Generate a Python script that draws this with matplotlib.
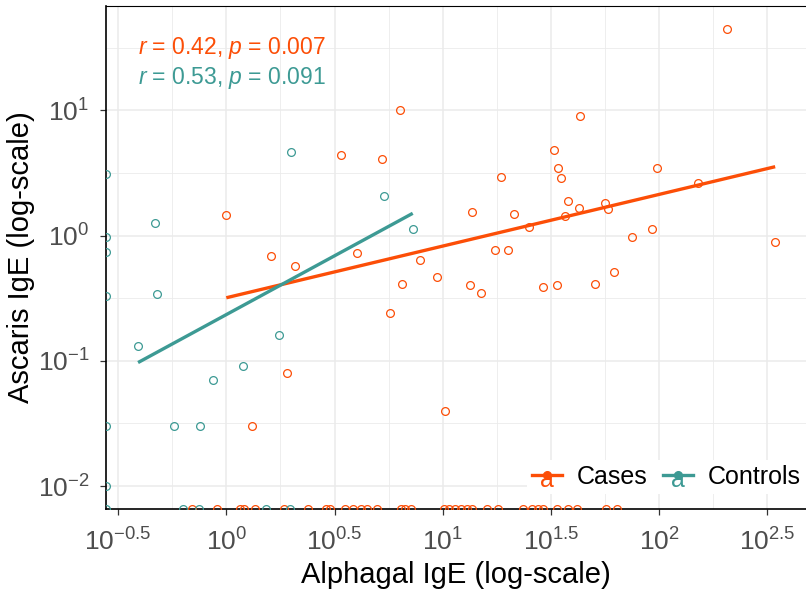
import numpy as np
import matplotlib.pyplot as plt
from matplotlib.legend_handler import HandlerBase
from matplotlib.lines import Line2D
from matplotlib.text import Text
from matplotlib.ticker import FixedLocator, NullFormatter

plt.rcParams['font.family'] = ['Liberation Sans', 'DejaVu Sans']
plt.rcParams['mathtext.fontset'] = 'custom'
plt.rcParams['mathtext.rm'] = 'Liberation Sans'
plt.rcParams['mathtext.it'] = 'Liberation Sans:italic'

# Cases: Alphagal IgE (x) vs Ascaris IgE (y); 0 = below detection
cases_x = [205, 43.1, 6.35, 32.8, 3.38, 5.24, 34.2, 35.1, 18.6, 97.5, 151.8, 37.8,
           42.5, 36.9, 56.2, 58.1, 13.6, 21.4, 25.0, 1.0, 74.7, 93.0, 344, 17.4,
           20.0, 1.61, 2.08, 4.00, 7.88, 9.38, 6.46, 5.69, 13.4, 15.1, 29.2, 33.8,
           50.4, 62.1, 1.91, 10.2, 1.31,
           0.692, 0.903, 1.157, 1.207, 1.357, 1.848, 2.385, 2.889, 3.013, 3.537,
           3.850, 4.194, 4.469, 4.970, 6.418, 6.697, 7.137, 10.14, 10.69, 11.40,
           12.15, 12.95, 13.66, 16.02, 18.02, 23.52, 25.88, 27.57, 29.07, 33.75,
           37.93, 41.7, 56.9, 63.9]
cases_y = [44.2, 9.04, 10.1, 4.81, 4.39, 4.08, 3.48, 2.86, 2.95, 3.44, 2.61, 1.90,
           1.67, 1.44, 1.81, 1.63, 1.55, 1.49, 1.18, 1.45, 0.98, 1.12, 0.887, 0.762,
           0.770, 0.690, 0.571, 0.729, 0.641, 0.469, 0.408, 0.241, 0.403, 0.350,
           0.390, 0.401, 0.408, 0.511, 0.080, 0.040, 0.030] + [0] * 34

# Controls
controls_x = [0.470, 0.480, 0.391, 1.985, 5.37, 7.27, 1.747, 1.194, 0.871, 0.573, 0.758,
              0, 0, 0, 0, 0, 0, 0,
              0.629, 0.746, 1.52, 1.97]
controls_y = [1.25, 0.340, 0.1305, 4.66, 2.085, 1.127, 0.160, 0.0904, 0.0699, 0.030, 0.030,
              3.10, 0.978, 0.743, 0.329, 0.030, 0.010, 0,
              0, 0, 0, 0]

groups = ['Cases', 'Controls']
colors = {'Cases': '#FC4E07', 'Controls': '#3D9A94'}
stats_text = {'Cases': '$r$ = 0.42, $p$ = 0.007', 'Controls': '$r$ = 0.53, $p$ = 0.091'}

x_ticks = [-0.5, 0, 0.5, 1, 1.5, 2, 2.5]
y_ticks = [-2, -1, 0, 1]
xlim = (10 ** -0.556, 10 ** 2.679)
ylim = (10 ** -2.183, 10 ** 1.832)


class KeyHandler(HandlerBase):
    # ggplot 스타일 범례 키: 선 + 점 + 'a'
    def create_artists(self, legend, orig_handle, xdescent, ydescent,
                       width, height, fontsize, trans):
        c = orig_handle.get_color()
        x0, x1 = -xdescent, -xdescent + width
        yc = -ydescent + height / 2
        ln = Line2D([x0, x1], [yc, yc], color=c, lw=2.4, transform=trans)
        dot = Line2D([(x0 + x1) / 2], [yc], marker='o', ms=5.5, color=c,
                     transform=trans)
        txt = Text((x0 + x1) / 2, yc - height * 0.3, 'a', color=c, ha='center',
                   va='center', fontsize=fontsize, transform=trans)
        return [ln, dot, txt]


fig = plt.figure(figsize=(8.06, 6.01), dpi=100)
ax = fig.add_axes([106 / 806, 1 - 509 / 601, 700 / 806, 503 / 601])
ax.set_xscale('log')
ax.set_yscale('log')
ax.set_xlim(xlim)
ax.set_ylim(ylim)

data = {'Cases': (cases_x, cases_y), 'Controls': (controls_x, controls_y)}
handles = []
for g in groups:
    x = np.array(data[g][0], dtype=float)
    y = np.array(data[g][1], dtype=float)
    # 0 값은 패널 가장자리에 (-Inf처럼)
    px = np.where(x > 0, x, xlim[0])
    py = np.where(y > 0, y, ylim[0])
    ax.plot(px, py, 'o', ms=5.6, mfc='none', mec=colors[g], mew=0.9, zorder=3)

for g in groups:
    x = np.array(data[g][0], dtype=float)
    y = np.array(data[g][1], dtype=float)
    m = (x > 0) & (y > 0)
    lx, ly = np.log10(x[m]), np.log10(y[m])
    k, b = np.polyfit(lx, ly, 1)
    xs = np.array([lx.min(), lx.max()])
    h, = ax.plot(10 ** xs, 10 ** (k * xs + b), color=colors[g], lw=2.4,
                 solid_capstyle='butt', zorder=4)
    handles.append(h)

# 상관계수 텍스트
for i, g in enumerate(groups):
    ax.text(0.046, 0.916 - i * 0.06, stats_text[g], transform=ax.transAxes,
            color=colors[g], fontsize=16.5, ha='left', va='center')

ax.xaxis.set_major_locator(FixedLocator([10 ** t for t in x_ticks]))
ax.set_xticklabels([r'$10^{%g}$' % t for t in x_ticks])
ax.xaxis.set_minor_locator(FixedLocator([10 ** (t + 0.25) for t in x_ticks]))
ax.xaxis.set_minor_formatter(NullFormatter())
ax.yaxis.set_major_locator(FixedLocator([10 ** t for t in y_ticks]))
ax.set_yticklabels([r'$10^{%g}$' % t for t in y_ticks])
ax.yaxis.set_minor_locator(FixedLocator([10 ** (t + 0.5) for t in y_ticks]))
ax.yaxis.set_minor_formatter(NullFormatter())

ax.grid(True, which='major', color='#EBEBEB', lw=1.1, zorder=0)
ax.grid(True, which='minor', color='#EBEBEB', lw=0.6, zorder=0)
ax.set_axisbelow(True)
ax.tick_params(which='major', length=4, width=0.9, color='#333333',
               labelcolor='#4D4D4D', labelsize=19)
ax.tick_params(axis='x', which='major', pad=10)
ax.tick_params(axis='y', which='major', pad=8)
ax.tick_params(which='minor', length=0)

for s in ['left', 'bottom']:
    ax.spines[s].set_linewidth(1.2)
ax.spines['top'].set_linewidth(0.8)
ax.spines['right'].set_visible(False)

ax.set_xlabel('Alphagal IgE (log-scale)', fontsize=21, labelpad=4)
ax.set_ylabel('Ascaris IgE (log-scale)', fontsize=21, labelpad=2)

leg = ax.legend(handles, groups, handler_map={Line2D: KeyHandler()},
                loc='lower right', bbox_to_anchor=(1.0, 0.03), ncol=2,
                fontsize=18, frameon=True, fancybox=False, framealpha=1,
                edgecolor='none', facecolor='white', handlelength=1.2,
                handletextpad=0.6, columnspacing=0.6, borderpad=0.2,
                borderaxespad=0.0)
leg.set_zorder(5)

fig.savefig('out.png', dpi=100)
